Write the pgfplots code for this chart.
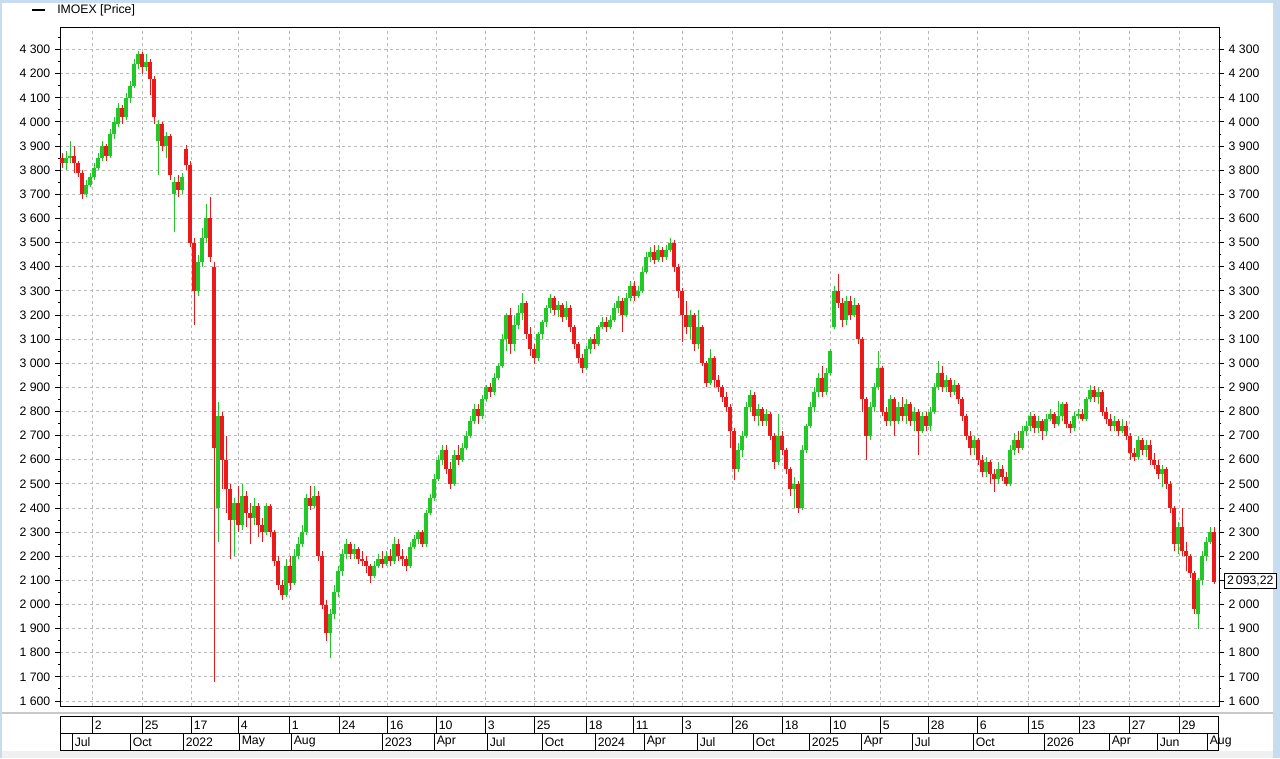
\documentclass[border=0pt]{standalone}
\usepackage{pgfplots}
\usepackage{pgfplotstable}
\usepackage{fontspec}
\setmainfont{Liberation Sans}
\pgfplotsset{compat=1.18}
\definecolor{upc}{RGB}{34,200,40}
\definecolor{dnc}{RGB}{235,25,25}
\definecolor{gridc}{RGB}{185,185,185}
\definecolor{winblue}{RGB}{200,220,240}
\definecolor{bggray}{RGB}{240,240,240}
\definecolor{sepgray}{RGB}{200,200,200}

\pgfplotstableread{
x o h l c
62 3850 3870 3810 3830
66 3830 3880 3800 3850
70 3850 3920 3830 3860
74 3860 3900 3790 3830
78 3830 3840 3770 3790
82 3790 3800 3680 3700
86 3700 3760 3690 3740
90 3740 3790 3730 3770
94 3770 3830 3760 3810
98 3810 3870 3800 3850
102 3850 3920 3840 3900
106 3900 3910 3840 3860
110 3860 3970 3850 3950
114 3950 4020 3930 4000
118 3990 4080 3980 4060
122 4060 4070 3990 4020
126 4020 4120 4010 4100
130 4100 4170 4080 4150
134 4150 4260 4140 4240
138 4240 4295 4220 4280
142 4280 4290 4200 4230
146 4230 4280 4210 4250
150 4250 4260 4110 4180
154 4180 4190 3990 4020
158 3920 4010 3780 3990
162 3990 4000 3880 3900
166 3900 3960 3850 3940
170 3940 3950 3760 3780
174 3700 3770 3545 3750
178 3750 3780 3690 3720
182 3720 3790 3700 3770
186 3890 3905 3800 3820
190 3820 3840 3480 3500
194 3500 3520 3160 3300
198 3300 3450 3280 3420
202 3420 3560 3400 3520
206 3520 3660 3500 3600
210 3600 3690 3420 3440
214 3400 3420 1680 2650
218 2400 2840 2260 2780
222 2780 2800 2480 2600
226 2600 2700 2380 2480
230 2480 2500 2190 2350
234 2350 2440 2200 2420
238 2420 2490 2300 2330
242 2330 2500 2310 2450
246 2450 2470 2320 2380
250 2380 2420 2250 2360
254 2360 2440 2330 2410
258 2410 2420 2280 2330
262 2330 2360 2260 2300
266 2300 2420 2290 2410
270 2410 2415 2280 2300
274 2300 2310 2160 2180
278 2180 2200 2060 2080
282 2080 2100 2020 2040
286 2040 2190 2030 2160
290 2160 2200 2060 2090
294 2090 2230 2080 2200
298 2200 2280 2190 2250
302 2250 2330 2240 2300
306 2300 2460 2290 2440
310 2440 2490 2390 2410
314 2410 2490 2400 2450
318 2450 2470 2180 2200
322 2200 2220 1980 2000
326 2000 2020 1850 1880
330 1880 1980 1780 1960
334 1960 2080 1940 2050
338 2050 2160 2030 2140
342 2140 2230 2120 2210
346 2210 2270 2190 2250
350 2250 2260 2190 2210
354 2210 2250 2190 2230
358 2230 2240 2170 2190
362 2190 2220 2160 2180
366 2180 2200 2130 2160
370 2160 2170 2090 2120
374 2120 2180 2110 2160
378 2160 2210 2150 2190
382 2190 2220 2150 2170
386 2170 2220 2160 2200
390 2200 2230 2160 2180
394 2180 2280 2170 2250
398 2250 2270 2180 2200
402 2200 2230 2160 2190
406 2190 2200 2140 2160
410 2160 2260 2150 2240
414 2240 2290 2230 2270
418 2270 2310 2250 2300
422 2300 2310 2240 2250
426 2250 2390 2240 2380
430 2380 2460 2370 2440
434 2440 2540 2430 2520
438 2520 2620 2510 2600
442 2600 2660 2580 2640
446 2640 2660 2540 2560
450 2560 2590 2480 2500
454 2500 2640 2490 2620
458 2620 2660 2580 2600
462 2600 2670 2590 2650
466 2650 2720 2640 2700
470 2700 2780 2690 2760
474 2760 2830 2750 2810
478 2810 2830 2750 2780
482 2780 2870 2770 2850
486 2850 2910 2840 2900
490 2900 2920 2860 2880
494 2880 2960 2870 2940
498 2940 3000 2930 2990
502 2990 3120 2980 3100
506 3100 3210 3050 3200
510 3200 3230 3040 3080
514 3080 3200 3050 3160
518 3160 3240 3140 3210
522 3210 3290 3180 3250
526 3250 3260 3100 3120
530 3120 3150 3030 3060
534 3060 3080 2995 3020
538 3020 3130 3010 3120
542 3120 3180 3100 3170
546 3170 3240 3150 3230
550 3230 3285 3210 3270
554 3270 3280 3200 3220
558 3220 3260 3190 3240
562 3240 3250 3170 3190
566 3190 3260 3180 3230
570 3230 3240 3130 3150
574 3150 3160 3060 3080
578 3080 3090 3000 3020
582 3020 3040 2960 2980
586 2980 3070 2970 3060
590 3060 3110 3040 3100
594 3100 3120 3060 3080
598 3080 3160 3070 3150
602 3150 3190 3140 3170
606 3170 3190 3130 3150
610 3150 3200 3140 3180
614 3180 3250 3170 3230
618 3230 3280 3210 3260
622 3260 3270 3130 3200
626 3200 3290 3190 3270
630 3270 3340 3260 3320
634 3320 3340 3260 3280
638 3280 3320 3270 3300
642 3300 3400 3290 3380
646 3380 3460 3370 3440
650 3440 3480 3420 3460
654 3460 3490 3410 3430
658 3430 3490 3420 3470
662 3470 3480 3420 3440
666 3440 3490 3430 3470
670 3470 3520 3460 3500
674 3500 3510 3380 3400
678 3400 3410 3270 3300
682 3300 3310 3090 3200
686 3200 3260 3120 3150
690 3150 3220 3100 3200
694 3200 3210 3050 3080
698 3080 3220 3060 3150
702 3150 3160 2990 3000
706 3000 3010 2900 2920
710 2920 3060 2910 3020
714 3020 3030 2900 2930
718 2930 2950 2880 2900
722 2900 2910 2840 2860
726 2860 2880 2800 2820
730 2820 2830 2650 2720
734 2720 2730 2515 2560
738 2560 2670 2550 2640
742 2640 2720 2610 2700
746 2700 2840 2690 2820
750 2820 2890 2800 2870
754 2870 2880 2760 2780
758 2780 2830 2740 2810
762 2810 2820 2740 2760
766 2760 2810 2740 2790
770 2790 2800 2680 2700
774 2700 2710 2560 2590
778 2590 2790 2580 2700
782 2700 2720 2620 2640
786 2640 2650 2540 2560
790 2560 2570 2450 2480
794 2480 2530 2400 2500
798 2500 2510 2378 2400
802 2400 2660 2390 2640
806 2640 2750 2630 2740
810 2740 2840 2730 2820
814 2820 2900 2800 2880
818 2880 2960 2860 2940
822 2940 2990 2860 2880
826 2880 2980 2870 2960
830 2960 3060 2950 3050
834 3150 3320 3140 3300
838 3300 3372 3230 3250
842 3250 3270 3150 3180
846 3180 3280 3160 3260
850 3260 3280 3180 3200
854 3200 3270 3190 3240
858 3240 3250 3080 3100
862 3100 3110 2800 2850
866 2850 2860 2600 2700
870 2700 2840 2680 2820
874 2820 2920 2800 2900
878 2900 3050 2890 2980
882 2980 2990 2780 2800
886 2800 2820 2740 2760
890 2760 2870 2740 2850
894 2850 2860 2700 2760
898 2760 2840 2750 2820
902 2820 2860 2760 2780
906 2780 2850 2750 2830
910 2830 2840 2740 2760
914 2760 2820 2720 2800
918 2800 2810 2620 2720
922 2720 2800 2710 2780
926 2780 2800 2720 2740
930 2740 2820 2720 2800
934 2800 2920 2790 2900
938 2900 3010 2890 2960
942 2960 2990 2880 2900
946 2900 2950 2880 2930
950 2930 2940 2860 2880
954 2880 2930 2870 2910
958 2910 2920 2830 2850
962 2850 2860 2760 2780
966 2780 2790 2680 2700
970 2700 2720 2620 2650
974 2650 2700 2620 2680
978 2680 2690 2580 2600
982 2600 2620 2530 2550
986 2550 2610 2530 2590
990 2590 2600 2500 2540
994 2540 2560 2466 2520
998 2520 2590 2500 2560
1002 2560 2580 2510 2530
1006 2530 2550 2490 2500
1010 2500 2660 2490 2640
1014 2640 2710 2620 2680
1018 2680 2720 2630 2650
1022 2650 2740 2640 2720
1026 2720 2760 2700 2740
1030 2740 2800 2720 2780
1034 2780 2790 2710 2730
1038 2730 2780 2710 2760
1042 2760 2770 2680 2720
1046 2720 2790 2700 2770
1050 2770 2810 2760 2790
1054 2790 2800 2730 2750
1058 2750 2842 2740 2780
1062 2780 2840 2760 2830
1066 2830 2840 2730 2750
1070 2750 2760 2710 2730
1074 2730 2800 2720 2780
1078 2780 2810 2770 2790
1082 2790 2810 2760 2770
1086 2770 2860 2760 2850
1090 2850 2910 2840 2890
1094 2890 2905 2840 2860
1098 2860 2900 2830 2880
1102 2880 2890 2780 2800
1106 2800 2820 2750 2770
1110 2770 2790 2720 2740
1114 2740 2780 2720 2760
1118 2760 2770 2700 2720
1122 2720 2770 2710 2740
1126 2740 2760 2680 2700
1130 2700 2710 2600 2630
1134 2630 2650 2596 2610
1138 2610 2700 2600 2680
1142 2680 2690 2620 2640
1146 2640 2680 2610 2660
1150 2660 2680 2580 2600
1154 2600 2630 2560 2580
1158 2580 2600 2520 2540
1162 2540 2580 2486 2560
1166 2560 2570 2480 2500
1170 2500 2510 2380 2400
1174 2400 2410 2220 2250
1178 2250 2340 2210 2320
1182 2320 2400 2200 2220
1186 2220 2260 2140 2200
1190 2200 2210 2110 2130
1194 2130 2140 1960 1980
1198 1960 2110 1900 2100
1202 2100 2220 2080 2200
1206 2200 2280 2180 2260
1210 2260 2320 2250 2300
1214 2300 2320 2086 2093.22
}\ohlc

\pgfplotsset{
  every tick label/.append style={font=\fontsize{9.2}{11}\selectfont},
  common/.style={
    at={(45pt,-20.25pt)}, anchor=north west,
    width=869.25pt, height=509.25pt, scale only axis,
    xmin=60, xmax=1219, ymin=1579.3, ymax=4393.7,
    minor ytick={1650,1750,...,4350},
    tick align=outside,
    major tick length=3.75pt, minor tick length=1.75pt,
    scaled y ticks=false,
    yticklabel style={/pgf/number format/.cd, 1000 sep={\ }, assume math mode=true},
    tick style={black, line width=0.75pt},
    axis line style={line width=0.75pt},
  },
}

\begin{document}
\begin{tikzpicture}
\begin{scope}[x=0.75pt, y=-0.75pt]
  \path[fill=white] (0,0) rectangle (1280,758);
  \fill[winblue] (0,0) rectangle (1280,3);
  \fill[winblue] (0,0) rectangle (2,758);
  \fill[winblue] (1273,0) rectangle (1280,758);
  \fill[bggray] (2,751) rectangle (1273,758);
  \draw[sepgray, line width=1.5pt] (2,713) -- (1273,713);
  % legend
  \draw[black, line width=1.5pt] (32,10) -- (45,10);
  \node[anchor=west, inner sep=0pt, font=\fontsize{9.2}{11}\selectfont] at (57,10) {IMOEX [Price]};
\end{scope}

\begin{axis}[common,
  ytick={1600,1700,...,4300},
  xtick={92,142,191,238,289,339,387,436,485,534,586,633,682,732,782,830,880,928,977,1028,1079,1129,1179},
  xticklabels={}, xtick style={draw=none},
  ytick pos=left,
  xmajorgrids, ymajorgrids,
  major grid style={gridc, line width=0.75pt, dash pattern=on 2.25pt off 2.25pt},
]
% wicks
\addplot[draw=none, mark=none, forget plot, error bars/.cd, y dir=plus, y explicit, error mark=none,
  error bar style={draw=upc, line width=0.75pt, solid}]
  table[x=x, y expr={\thisrow{c}<\thisrow{o} ? nan : \thisrow{l}}, y error expr={\thisrow{h}-\thisrow{l}}] {\ohlc};
\addplot[draw=none, mark=none, forget plot, error bars/.cd, y dir=plus, y explicit, error mark=none,
  error bar style={draw=dnc, line width=0.75pt, solid}]
  table[x=x, y expr={\thisrow{c}<\thisrow{o} ? \thisrow{l} : nan}, y error expr={\thisrow{h}-\thisrow{l}}] {\ohlc};
% bodies
\addplot[draw=none, mark=none, forget plot, error bars/.cd, y dir=plus, y explicit, error mark=none,
  error bar style={draw=upc, line width=2.6pt, solid}]
  table[x=x, y expr={\thisrow{c}<\thisrow{o} ? nan : \thisrow{o}}, y error expr={\thisrow{c}-\thisrow{o}}] {\ohlc};
\addplot[draw=none, mark=none, forget plot, error bars/.cd, y dir=plus, y explicit, error mark=none,
  error bar style={draw=dnc, line width=2.6pt, solid}]
  table[x=x, y expr={\thisrow{c}<\thisrow{o} ? \thisrow{c} : nan}, y error expr={\thisrow{o}-\thisrow{c}}] {\ohlc};
\end{axis}

\begin{axis}[common, hide x axis, axis y line*=right,
  ytick={1600,1700,1800,1900,2000,2200,2300,2400,2500,2600,2700,2800,2900,3000,3100,3200,3300,3400,3500,3600,3700,3800,3900,4000,4100,4200,4300},
  extra y ticks={2100}, extra y tick labels={}]
\end{axis}

\begin{scope}[x=0.75pt, y=-0.75pt, font=\fontsize{9.2}{11}\selectfont]
  % price box
  \draw[black, line width=0.75pt, fill=white] (1224.5,573) rectangle (1276,588.5);
  \node[inner sep=0pt] at (1250.3,580.8) {2\,093,22};
  % date band
  \draw[black, line width=0.75pt] (60,716.5) rectangle (1218.5,750);
  \draw[black, line width=0.75pt] (60,733.2) -- (1218.5,733.2);
  \foreach \gx/\lab in {92/2,142/25,191/17,238/4,289/1,339/24,387/16,436/10,485/3,534/25,586/18,633/11,682/3,732/26,782/18,830/10,880/5,928/28,977/6,1028/15,1079/23,1129/27,1179/29}{
    \draw[black, line width=0.75pt] (\gx,716.5) -- (\gx,733.2);
    \node[anchor=west, inner sep=0pt] at (\gx+2.5,725) {\lab};
  }
  \foreach \mx/\lab in {72/Jul,130/Oct,183/2022,239/May,291/Aug,382/2023,434/Apr,487/Jul,542/Oct,595/2024,644/Apr,697/Jul,753/Oct,809/2025,861/Apr,912/Jul,973/Oct,1044/2026,1109/Apr,1157/Jun,1207/Aug}{
    \draw[black, line width=0.75pt] (\mx,733.2) -- (\mx,750);
    \node[anchor=west, inner sep=0pt] at (\mx+2.5,742) {\lab};
  }
\end{scope}
\end{tikzpicture}
\end{document}
